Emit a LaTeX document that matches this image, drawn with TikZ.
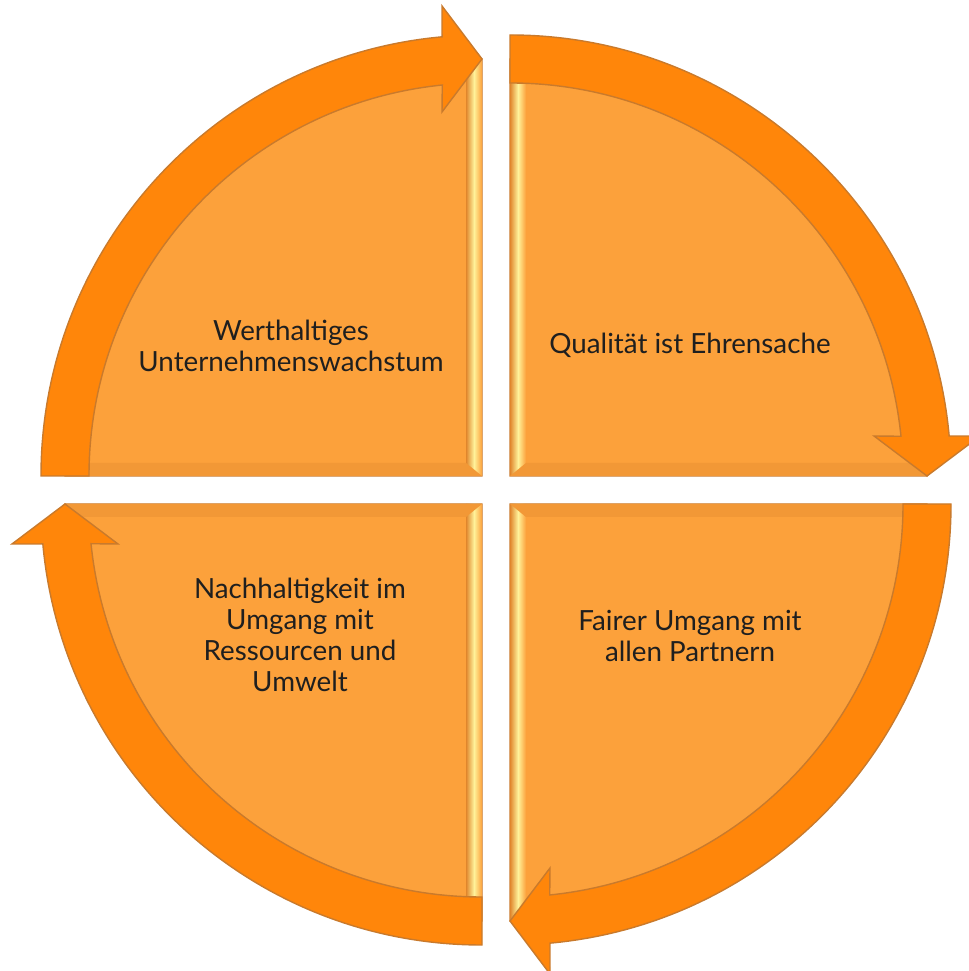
\documentclass[tikz,border=0pt]{standalone}
\usepackage{fontspec}
\setmainfont{Lato}

\definecolor{ringorange}{HTML}{FF860A}
\definecolor{wedgeorange}{HTML}{FCA13B}
\definecolor{edgebrown}{HTML}{C97A2C}
\definecolor{bevdark}{HTML}{E0862C}
\definecolor{bevlight}{HTML}{FFF29A}

\begin{document}
\begin{tikzpicture}[
    wedge/.style={fill=wedgeorange, draw=edgebrown, line width=0.3pt},
    ring/.style={fill=ringorange, draw=edgebrown, line width=0.4pt},
    bevelv/.style={left color=bevdark, right color=wedgeorange, middle color=bevlight},
    bevelh/.style={fill=bevdark!35!wedgeorange},
    quadtext/.style={align=center, text=black!88, font=\fontsize{7.9}{8.8}\selectfont}
  ]

      \useasboundingbox (-4.96,-4.81) rectangle (4.72,4.90);

      % quarter wedges with bevel strips
      \foreach \a/\sx/\sy in {90/-1/1, 0/1/1, -90/1/-1, 180/-1/-1}{
        \begin{scope}[shift={(0.14*\sx,0.14*\sy)}]
          \draw[wedge] (0,0) -- (\a:4.17) arc (\a:\a+90:4.17) -- cycle;
          \clip (0,0) -- (\a:4.17) arc (\a:\a+90:4.17) -- cycle;
          \fill[bevelv] (0,0) rectangle (0.16*\sx,4.3*\sy); % vertical edge
          \fill[bevelh] (0,0) -- (0.16*\sx,0.13*\sy) -- (4.3*\sx,0.13*\sy) -- (4.3*\sx,0) -- cycle; % horizontal edge
        \end{scope}
      }

      % circular arrows
      \foreach \r/\sx/\sy in {0/-1/1, -90/1/1, -180/1/-1, -270/-1/-1}
      \draw[ring, shift={(0.14*\sx,0.14*\sy)}, rotate=\r]
        (180:4.41) arc (180:95.2:4.41) -- (-0.40,4.70) -- (0,4.17)
        -- (-0.40,3.64) -- (95.8:3.93) arc (95.8:180:3.93) -- cycle;

      \node[quadtext] (growth) at (-2.05,1.44) {Werthaltiges\\Unternehmenswachstum};
      \node[quadtext] (quality) at (1.94,1.45) {Qualität ist Ehrensache};
      \node[quadtext] (fairness) at (1.94,-1.46) {Fairer Umgang mit\\allen Partnern};
      \node[quadtext] (sustain) at (-1.96,-1.45) {Nachhaltigkeit im\\Umgang mit\\Ressourcen und\\Umwelt};

\end{tikzpicture}
\end{document}
